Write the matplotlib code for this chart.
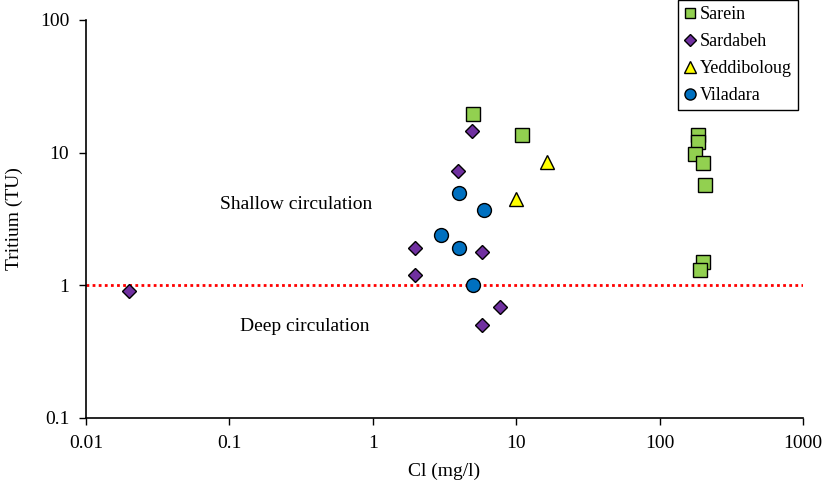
import numpy as np
import matplotlib.pyplot as plt
import matplotlib as mpl

mpl.rcParams["font.family"] = "Liberation Serif"
mpl.rcParams["font.size"] = 14

# Data (Cl in mg/l, tritium in TU)
sarein_cl = [5, 11, 186, 186, 176, 200, 206, 200, 190]
sarein_tu = [19.4, 13.5, 13.5, 12.0, 9.8, 8.4, 5.7, 1.5, 1.3]

sardabeh_cl = [4.9, 3.9, 1.96, 5.8, 1.96, 7.7, 5.8, 0.02]
sardabeh_tu = [14.5, 7.3, 1.9, 1.78, 1.2, 0.69, 0.5, 0.9]

yedd_cl = [16.5, 10]
yedd_tu = [8.5, 4.46]

vila_cl = [4, 6, 3, 4, 5]
vila_tu = [5.0, 3.7, 2.38, 1.9, 1.0]

x_ticks = [0.01, 0.1, 1, 10, 100, 1000]
x_labels = ["0.01", "0.1", "1", "10", "100", "1000"]
y_ticks = [0.1, 1, 10, 100]
y_labels = ["0.1", "1", "10", "100"]

fig = plt.figure(figsize=(8.24, 4.86), dpi=100)
ax = fig.add_axes([86 / 824, 1 - 418 / 486, (803 - 86) / 824, (418 - 20) / 486])

ax.set_xscale("log")
ax.set_yscale("log")
ax.set_xlim(0.01, 1000)
ax.set_ylim(0.1, 100)

ax.axhline(1, color="red", linestyle=(0, (1, 1.2)), linewidth=2, zorder=1)

ms = 9.5
ax.plot(sarein_cl, sarein_tu, "s", ms=ms, mfc="#92D050", mec="k", mew=1, ls="none", label="Sarein", zorder=3)
ax.plot(sardabeh_cl, sardabeh_tu, "D", ms=ms - 2, mfc="#7030A0", mec="k", mew=1, ls="none", label="Sardabeh", zorder=3)
ax.plot(yedd_cl, yedd_tu, "^", ms=ms + 1, mfc="#FFFF00", mec="k", mew=1, ls="none", label="Yeddiboloug", zorder=3)
ax.plot(vila_cl, vila_tu, "o", ms=ms + 0.5, mfc="#0070C0", mec="k", mew=1, ls="none", label="Viladara", zorder=3)

ax.set_xticks(x_ticks)
ax.set_xticklabels(x_labels)
ax.set_yticks(y_ticks)
ax.set_yticklabels(y_labels)
ax.minorticks_off()
ax.tick_params(direction="out", length=5, width=1, labelsize=14, pad=7)

for side in ["top", "right"]:
    ax.spines[side].set_visible(False)
for side in ["left", "bottom"]:
    ax.spines[side].set_linewidth(1.2)

ax.set_xlabel("Cl (mg/l)", fontsize=14, labelpad=8)
ax.set_ylabel("Tritium (TU)", fontsize=14, labelpad=12)

ax.text(0.293, 4.1, "Shallow circulation", ha="center", va="center", fontsize=14)
ax.text(0.333, 0.49, "Deep circulation", ha="center", va="center", fontsize=14)

leg = ax.legend(loc="upper right", bbox_to_anchor=(798 / 824, 1.0), bbox_transform=fig.transFigure,
                fancybox=False, edgecolor="k", framealpha=1, fontsize=13, markerscale=0.8,
                handlelength=0.6, handletextpad=0.25, borderpad=0.35, labelspacing=0.55,
                borderaxespad=0)
leg.get_frame().set_linewidth(1)

fig.savefig("out.png", dpi=100)
